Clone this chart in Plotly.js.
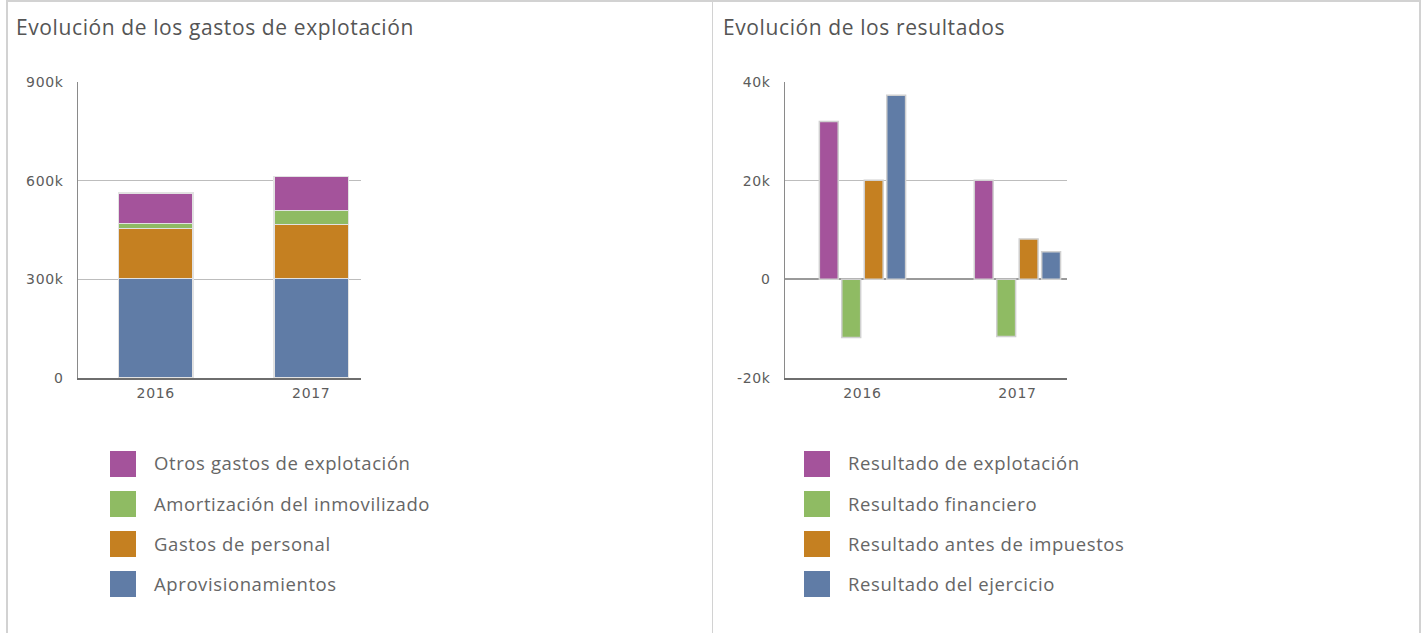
<!DOCTYPE html>
<html><head><meta charset="utf-8">
<script src="https://cdn.plot.ly/plotly-3.0.1.min.js"></script>
<style>
html,body{margin:0;padding:0;background:#fff;width:1423px;height:633px;overflow:hidden;}
.frame{position:absolute;background:#d2d2d2;}
#c1{position:absolute;left:8px;top:2px;width:703px;height:631px;}
#c2{position:absolute;left:714px;top:2px;width:704px;height:631px;}
.gtitle, .annotation-text{letter-spacing:0.6px;}
.xtick text, .ytick text{letter-spacing:0.7px;}
</style></head>
<body>
<div class="frame" style="left:6px;top:0;width:1415px;height:2px"></div>
<div class="frame" style="left:6px;top:0;width:2px;height:633px"></div>
<div class="frame" style="left:712px;top:0;width:1px;height:633px"></div>
<div class="frame" style="left:1419px;top:0;width:2px;height:633px"></div>
<div id="c1"></div>
<div id="c2"></div>
<script>
// ---- Data ----
const categories = ['2016', '2017'];

const gastosNames = ['Aprovisionamientos', 'Gastos de personal', 'Amortización del inmovilizado', 'Otros gastos de explotación'];
const aprovisionamientos = [302000, 302000];
const gastosPersonal = [153000, 165000];
const amortizacion = [15000, 42000];
const otrosGastos = [93000, 103000];
const gastosTickVals = [0, 300000, 600000, 900000];
const gastosTickText = ['0', '300k', '600k', '900k'];

const resultadosNames = ['Resultado de explotación', 'Resultado financiero', 'Resultado antes de impuestos', 'Resultado del ejercicio'];
const resExplotacion = [32000, 20100];
const resFinanciero = [-11800, -11600];
const resAntesImpuestos = [20100, 8200];
const resEjercicio = [37300, 5600];
const resTickVals = [-20000, 0, 20000, 40000];
const resTickText = ['-20k', '0', '20k', '40k'];

const cPurple = '#a4539b', cGreen = '#8fbb63', cOrange = '#c58021', cBlue = '#607ca6';

const titleFont = {family: 'Open Sans, Liberation Sans, Arial, sans-serif', size: 21, color: '#555'};
const legendFont = {family: 'Open Sans, Liberation Sans, Arial, sans-serif', size: 18.5, color: '#666'};
const tickFont = {family: 'DejaVu Sans, Verdana, sans-serif', size: 14, color: '#5c5c5c'};

function buildLegend(m, W, H, names, colors, sqX, txtX, y0) {
  const px = x => (x - m.l) / W;
  const py = y => 1 - (y - m.t) / H;
  const shapes = [], ann = [];
  names.forEach((n, i) => {
    const yc = y0 + i * 40;
    shapes.push({type: 'rect', xref: 'paper', yref: 'paper',
      x0: px(sqX), x1: px(sqX + 26), y0: py(yc - 13), y1: py(yc + 13),
      fillcolor: colors[i], line: {width: 0}});
    ann.push({xref: 'paper', yref: 'paper', x: px(txtX), y: py(yc - 1), xanchor: 'left', yanchor: 'middle',
      text: n, showarrow: false, font: legendFont});
  });
  return {shapes, ann};
}

// ---- Chart 1: stacked ----
const m1 = {l: 70, r: 350, t: 80, b: 255};
const W1 = 703 - m1.l - m1.r, H1 = 631 - m1.t - m1.b;
const ser1 = [aprovisionamientos, gastosPersonal, amortizacion, otrosGastos];
const col1 = [cBlue, cOrange, cGreen, cPurple];
const traces1 = ser1.map((v, i) => ({
  type: 'bar', x: categories, y: v, name: gastosNames[i],
  marker: {color: col1[i], line: {color: '#e2e2e2', width: 1.5}},
  hoverinfo: 'x+y+name'
}));
const leg1 = buildLegend(m1, W1, H1, gastosNames.slice().reverse(), col1.slice().reverse(), 102, 144, 462);
Plotly.newPlot('c1', traces1, {
  width: 703, height: 631, margin: m1, barmode: 'stack', bargap: 0.52,
  paper_bgcolor: '#fff', plot_bgcolor: '#fff', showlegend: false,
  title: {text: 'Evolución de los gastos de explotación', font: titleFont, xref: 'container', yref: 'container',
    x: 8 / 703, xanchor: 'left', y: 1 - 26 / 631, yanchor: 'middle'},
  xaxis: {type: 'category', range: [-0.5, 1.32], showgrid: false, showline: true, linecolor: '#6e6e6e', linewidth: 2,
    ticks: 'outside', ticklen: 1, tickcolor: 'rgba(0,0,0,0)', tickfont: tickFont, fixedrange: true},
  yaxis: {range: [0, 900000], tickvals: gastosTickVals, ticktext: gastosTickText, showgrid: true, gridcolor: '#bdbdbd', gridwidth: 1.5,
    showline: true, linecolor: '#8a8a8a', linewidth: 1.5, zeroline: false,
    ticks: 'outside', ticklen: 10, tickcolor: 'rgba(0,0,0,0)', tickfont: tickFont, fixedrange: true},
  shapes: leg1.shapes, annotations: leg1.ann
}, {displayModeBar: false, staticPlot: true});

// ---- Chart 2: grouped ----
const m2 = {l: 71, r: 351, t: 80, b: 255};
const W2 = 704 - m2.l - m2.r, H2 = 631 - m2.t - m2.b;
const ser2 = [resExplotacion, resFinanciero, resAntesImpuestos, resEjercicio];
const col2 = [cPurple, cGreen, cOrange, cBlue];
const traces2 = ser2.map((v, i) => ({
  type: 'bar', x: categories, y: v, name: resultadosNames[i],
  marker: {color: col2[i], line: {color: '#d0d0d0', width: 1.5}},
  hoverinfo: 'x+y+name'
}));
const leg2 = buildLegend(m2, W2, H2, resultadosNames, col2, 90, 132, 462);
Plotly.newPlot('c2', traces2, {
  width: 704, height: 631, margin: m2, barmode: 'group', bargap: 0.42, bargroupgap: 0.16,
  paper_bgcolor: '#fff', plot_bgcolor: '#fff', showlegend: false,
  title: {text: 'Evolución de los resultados', font: titleFont, xref: 'container', yref: 'container',
    x: 9 / 704, xanchor: 'left', y: 1 - 26 / 631, yanchor: 'middle'},
  xaxis: {type: 'category', range: [-0.5, 1.32], showgrid: false, showline: true, linecolor: '#6e6e6e', linewidth: 2,
    ticks: 'outside', ticklen: 1, tickcolor: 'rgba(0,0,0,0)', tickfont: tickFont, fixedrange: true},
  yaxis: {range: [-20000, 40000], tickvals: resTickVals, ticktext: resTickText, showgrid: true, gridcolor: '#bdbdbd', gridwidth: 1.5,
    showline: true, linecolor: '#8a8a8a', linewidth: 1.5, zeroline: true, zerolinecolor: '#9a9a9a', zerolinewidth: 2,
    ticks: 'outside', ticklen: 10, tickcolor: 'rgba(0,0,0,0)', tickfont: tickFont, fixedrange: true},
  shapes: leg2.shapes, annotations: leg2.ann
}, {displayModeBar: false, staticPlot: true});
</script>
</body></html>
